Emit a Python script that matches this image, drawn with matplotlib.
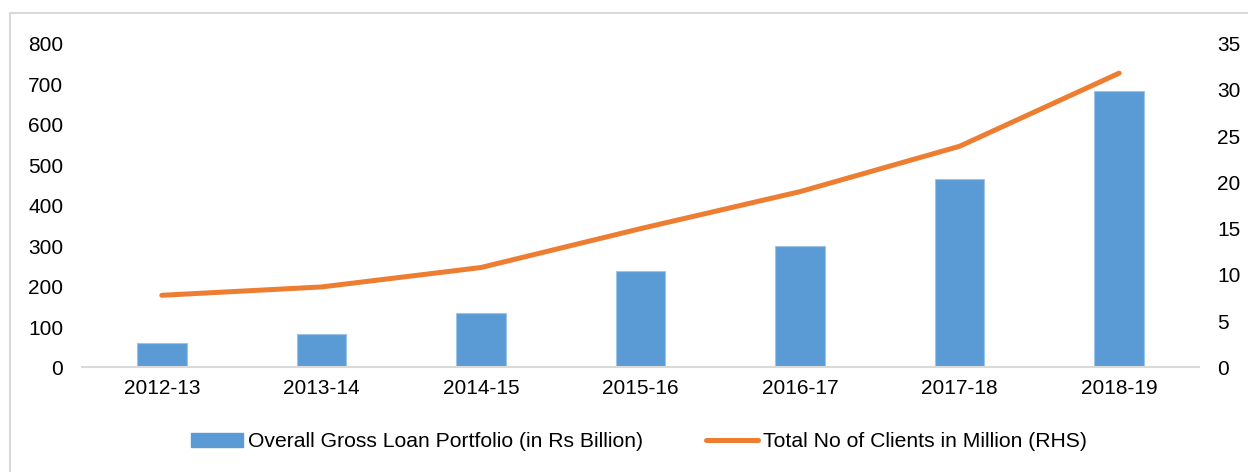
import matplotlib
matplotlib.use("Agg")
import matplotlib.pyplot as plt
from matplotlib.patches import Rectangle
from matplotlib.lines import Line2D
from matplotlib.patches import Patch

years = ["2012-13", "2013-14", "2014-15", "2015-16", "2016-17", "2017-18", "2018-19"]
loan_portfolio = [61, 82, 134, 238, 300, 465, 683]
clients_million = [7.8, 8.7, 10.8, 15.0, 19.0, 23.9, 31.8]

left_ticks = [0, 100, 200, 300, 400, 500, 600, 700, 800]
right_ticks = [0, 5, 10, 15, 20, 25, 30, 35]

plt.rcParams['font.family'] = ['Liberation Sans', 'DejaVu Sans']

fig = plt.figure(figsize=(12.48, 4.72), dpi=100)
ax = fig.add_axes([0.0657, 0.2214, 0.8950, 0.6864])

x = list(range(len(years)))
ax.bar(x, loan_portfolio, width=0.31, color="#5B9BD5", edgecolor="#9DC3E6", linewidth=0.8, zorder=2)
ax.set_xlim(-0.5, len(years) - 0.5)
ax.set_ylim(0, 800)
ax.set_yticks(left_ticks)
ax.set_xticks(x)
ax.set_xticklabels(years)
ax.tick_params(axis='both', length=0, labelsize=15, colors="#000000")
ax.tick_params(axis='x', pad=8)
ax.tick_params(axis='y', pad=13.5)
for s in ['top', 'right', 'left']:
    ax.spines[s].set_visible(False)
ax.spines['bottom'].set_color("#D9D9D9")
ax.spines['bottom'].set_linewidth(1.5)

ax2 = ax.twinx()
ax2.plot(x, clients_million, color="#ED7D31", linewidth=3.6, solid_capstyle='round', solid_joinstyle='round', zorder=3)
ax2.set_ylim(0, 35)
ax2.set_yticks(right_ticks)
ax2.tick_params(axis='y', length=0, labelsize=15, pad=13)
for s in ['top', 'right', 'left', 'bottom']:
    ax2.spines[s].set_visible(False)

handles = [Patch(facecolor="#5B9BD5", edgecolor="#5B9BD5"),
           Line2D([0], [0], color="#ED7D31", linewidth=3.6, solid_capstyle='round')]
labels = ["Overall Gross Loan Portfolio (in Rs Billion)", "Total No of Clients in Million (RHS)"]
fig.legend(handles, labels, loc='center', bbox_to_anchor=(0.512, 0.0636), ncol=2, frameon=False,
           fontsize=15.2, handlelength=2.46, handleheight=0.6, handletextpad=0.24, columnspacing=3.0)

fig.patches.append(Rectangle((10 / 1248, -0.1), 1.2, 1 - 13 / 472 + 0.1, transform=fig.transFigure,
                             fill=False, edgecolor="#D9D9D9", linewidth=1.5, zorder=0))

fig.savefig("out.png", dpi=100)
